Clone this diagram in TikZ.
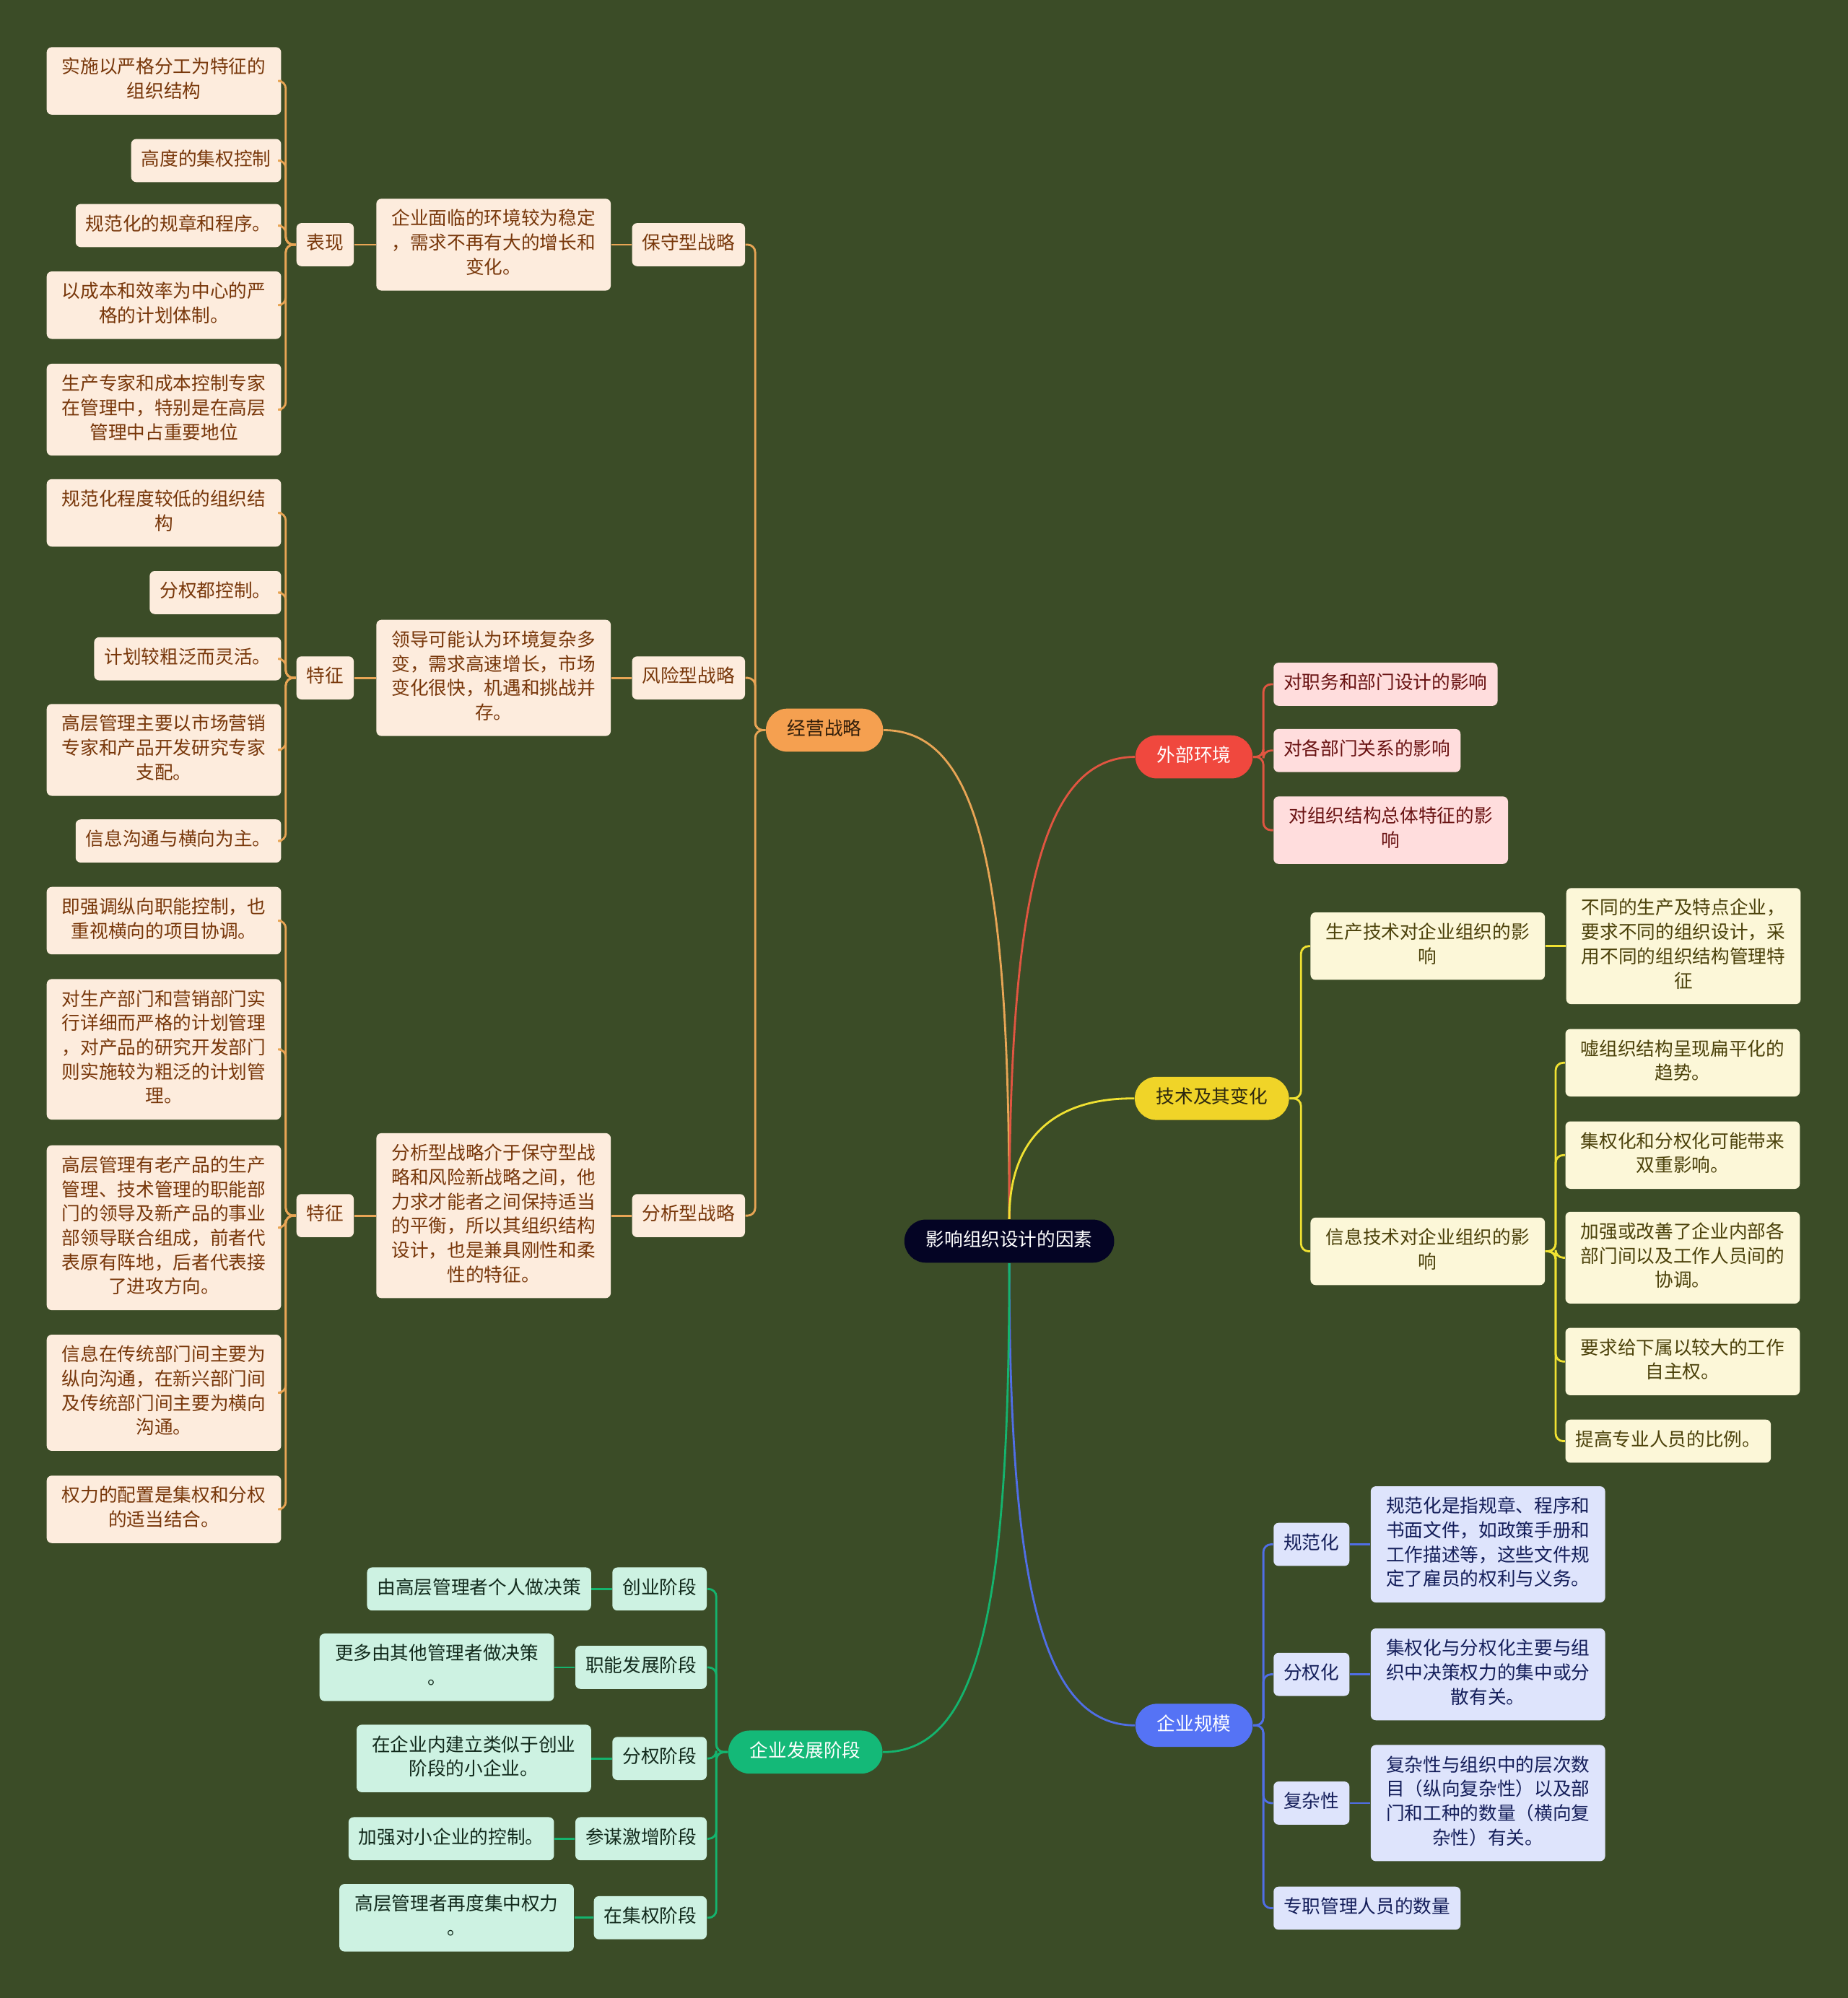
\documentclass[tikz,border=0pt]{standalone}
\usepackage{fontspec}
\setmainfont{Noto Sans CJK SC}
\usetikzlibrary{positioning}

\definecolor{bg}{RGB}{59,76,39}
\definecolor{rootfill}{RGB}{4,4,36}
\definecolor{ofill}{RGB}{245,160,80}
\definecolor{oline}{RGB}{232,165,85}
\definecolor{oleaf}{RGB}{253,236,221}
\definecolor{otext}{RGB}{120,55,10}
\definecolor{odark}{RGB}{50,30,10}
\definecolor{rfill}{RGB}{240,72,62}
\definecolor{rline}{RGB}{225,85,65}
\definecolor{rleaf}{RGB}{255,221,221}
\definecolor{rtext}{RGB}{105,18,18}
\definecolor{yfill}{RGB}{240,212,40}
\definecolor{yline}{RGB}{240,225,50}
\definecolor{yleaf}{RGB}{252,247,216}
\definecolor{ytext}{RGB}{75,65,10}
\definecolor{ydark}{RGB}{45,40,15}
\definecolor{bfill}{RGB}{85,115,245}
\definecolor{bline}{RGB}{80,110,230}
\definecolor{bleaf}{RGB}{222,228,252}
\definecolor{btext}{RGB}{20,30,90}
\definecolor{gfill}{RGB}{20,185,120}
\definecolor{gline}{RGB}{20,180,110}
\definecolor{gleaf}{RGB}{205,242,226}
\definecolor{gtext}{RGB}{18,42,28}

\tikzset{
  txt/.style={font=\fontsize{7.3pt}{9.6pt}\selectfont},
  pill/.style={txt, rounded corners=8.5pt, inner xsep=8.5pt, inner ysep=3.7pt,
    execute at begin node=\strut},
  box/.style={txt, rounded corners=2pt, inner xsep=4pt, inner ysep=3.7pt, align=center,
    execute at begin node=\strut, execute at end node=\strut},
  wide/.style={text width=84.4pt},
  obox/.style={box, fill=oleaf, text=otext},
  rbox/.style={box, fill=rleaf, text=rtext},
  ybox/.style={box, fill=yleaf, text=ytext},
  bbox/.style={box, fill=bleaf, text=btext},
  gbox/.style={box, fill=gleaf, text=gtext},
  link/.style={line width=0.8pt, rounded corners=3pt},
  up/.style={out looseness=1.7, in looseness=0.5},
}

\begin{document}
\begin{tikzpicture}[x=0.017655cm, y=-0.017655cm]
  \fill[bg] (0,0) rectangle (1450,1568);
  \useasboundingbox (0,0) rectangle (1450,1568);

  %%%%% main branches %%%%%
  \node[pill, fill=rootfill, text=white] (root) at (792,974) {影响组织设计的因素};
  \node[pill, fill=ofill, text=odark] (jy) at (647,573) {经营战略};
  \node[pill, fill=rfill, text=white] (wb) at (937,594) {外部环境};
  \node[pill, fill=yfill, text=ydark] (js) at (951,862) {技术及其变化};
  \node[pill, fill=bfill, text=white] (gm) at (937,1354) {企业规模};
  \node[pill, fill=gfill, text=white] (fz) at (632,1375) {企业发展阶段};

  \draw[link, oline] (root.north) to[out=90, in=0, up] (jy.east);
  \draw[link, rline] (root.north) to[out=90, in=180, up] (wb.west);
  \draw[link, yline] (root.north) to[out=90, in=180, up] (js.west);
  \draw[link, bline] (root.south) to[out=-90, in=180, up] (gm.west);
  \draw[link, gline] (root.south) to[out=-90, in=0, up] (fz.east);

  %%%%% 经营战略 %%%%%
  \node[obox, anchor=east] (bs) at (585,192) {保守型战略};
  \node[obox, wide, left=8pt of bs] (bsd) {企业面临的环境较为稳定\\，需求不再有大的增长和\\变化。};
  \node[obox, left=8.5pt of bsd] (bst) {表现};
  \node[obox, wide, anchor=east] (bs1) at (221,63.5) {实施以严格分工为特征的\\组织结构};
  \node[obox, anchor=east] (bs2) at (221,126) {高度的集权控制};
  \node[obox, anchor=east] (bs3) at (221,177) {规范化的规章和程序。};
  \node[obox, wide, anchor=east] (bs4) at (221,239.5) {以成本和效率为中心的严\\格的计划体制。};
  \node[obox, wide, anchor=east] (bs5) at (221,321.5) {生产专家和成本控制专家\\在管理中，特别是在高层\\管理中占重要地位};

  \node[obox, anchor=east] (fx) at (585,532) {风险型战略};
  \node[obox, wide, left=8pt of fx] (fxd) {领导可能认为环境复杂多\\变，需求高速增长，市场\\变化很快，机遇和挑战并\\存。};
  \node[obox, left=8.5pt of fxd] (fxt) {特征};
  \node[obox, wide, anchor=east] (fx1) at (221,402.5) {规范化程度较低的组织结\\构};
  \node[obox, anchor=east] (fx2) at (221,465) {分权都控制。};
  \node[obox, anchor=east] (fx3) at (221,517) {计划较粗泛而灵活。};
  \node[obox, wide, anchor=east] (fx4) at (221,588.5) {高层管理主要以市场营销\\专家和产品开发研究专家\\支配。};
  \node[obox, anchor=east] (fx5) at (221,660) {信息沟通与横向为主。};

  \node[obox, anchor=east] (fe) at (585,954) {分析型战略};
  \node[obox, wide, left=8pt of fe] (fed) {分析型战略介于保守型战\\略和风险新战略之间，他\\力求才能者之间保持适当\\的平衡，所以其组织结构\\设计，也是兼具刚性和柔\\性的特征。};
  \node[obox, left=8.5pt of fed] (fet) {特征};
  \node[obox, wide, anchor=east] (fe1) at (221,722.5) {即强调纵向职能控制，也\\重视横向的项目协调。};
  \node[obox, wide, anchor=east] (fe2) at (221,823.5) {对生产部门和营销部门实\\行详细而严格的计划管理\\，对产品的研究开发部门\\则实施较为粗泛的计划管\\理。};
  \node[obox, wide, anchor=east] (fe3) at (221,963.5) {高层管理有老产品的生产\\管理、技术管理的职能部\\门的领导及新产品的事业\\部领导联合组成，前者代\\表原有阵地，后者代表接\\了进攻方向。};
  \node[obox, wide, anchor=east] (fe4) at (221,1093) {信息在传统部门间主要为\\纵向沟通，在新兴部门间\\及传统部门间主要为横向\\沟通。};
  \node[obox, wide, anchor=east] (fe5) at (221,1184.5) {权力的配置是集权和分权\\的适当结合。};

  \draw[link, oline] (jy.west) -- ++(-8,0) |- (bs.east);
  \draw[link, oline] (jy.west) -- ++(-8,0) |- (fx.east);
  \draw[link, oline] (jy.west) -- ++(-8,0) |- (fe.east);
  \draw[link, oline] (bs.west) -- (bsd.east);
  \draw[link, oline] (bsd.west) -- (bst.east);
  \draw[link, oline] (fx.west) -- (fxd.east);
  \draw[link, oline] (fxd.west) -- (fxt.east);
  \draw[link, oline] (fe.west) -- (fed.east);
  \draw[link, oline] (fed.west) -- (fet.east);
  \draw[link, oline] (bst.west) -- ++(-8,0) |- (bs1.east);
  \draw[link, oline] (bst.west) -- ++(-8,0) |- (bs2.east);
  \draw[link, oline] (bst.west) -- ++(-8,0) |- (bs3.east);
  \draw[link, oline] (bst.west) -- ++(-8,0) |- (bs4.east);
  \draw[link, oline] (bst.west) -- ++(-8,0) |- (bs5.east);
  \draw[link, oline] (fxt.west) -- ++(-8,0) |- (fx1.east);
  \draw[link, oline] (fxt.west) -- ++(-8,0) |- (fx2.east);
  \draw[link, oline] (fxt.west) -- ++(-8,0) |- (fx3.east);
  \draw[link, oline] (fxt.west) -- ++(-8,0) |- (fx4.east);
  \draw[link, oline] (fxt.west) -- ++(-8,0) |- (fx5.east);
  \draw[link, oline] (fet.west) -- ++(-8,0) |- (fe1.east);
  \draw[link, oline] (fet.west) -- ++(-8,0) |- (fe2.east);
  \draw[link, oline] (fet.west) -- ++(-8,0) |- (fe3.east);
  \draw[link, oline] (fet.west) -- ++(-8,0) |- (fe4.east);
  \draw[link, oline] (fet.west) -- ++(-8,0) |- (fe5.east);

  %%%%% 外部环境 %%%%%
  \node[rbox, anchor=west] (wb1) at (999,537) {对职务和部门设计的影响};
  \node[rbox, anchor=west] (wb2) at (999,589) {对各部门关系的影响};
  \node[rbox, wide, anchor=west] (wb3) at (999,651.5) {对组织结构总体特征的影\\响};
  \draw[link, rline] (wb.east) -- ++(8,0) |- (wb1.west);
  \draw[link, rline] (wb.east) -- ++(8,0) |- (wb2.west);
  \draw[link, rline] (wb.east) -- ++(8,0) |- (wb3.west);

  %%%%% 技术及其变化 %%%%%
  \node[ybox, wide, anchor=west] (sc) at (1028,742.5) {生产技术对企业组织的影\\响};
  \node[ybox, wide, right=8pt of sc] (sc1) {不同的生产及特点企业，\\要求不同的组织设计，采\\用不同的组织结构管理特\\征};
  \node[ybox, wide, anchor=west] (xx) at (1028,982) {信息技术对企业组织的影\\响};
  \node[ybox, wide, anchor=west] (xx1) at (1228,834) {嘘组织结构呈现扁平化的\\趋势。};
  \node[ybox, wide, anchor=west] (xx2) at (1228,906.5) {集权化和分权化可能带来\\双重影响。};
  \node[ybox, wide, anchor=west] (xx3) at (1228,987) {加强或改善了企业内部各\\部门间以及工作人员间的\\协调。};
  \node[ybox, wide, anchor=west] (xx4) at (1228,1068.5) {要求给下属以较大的工作\\自主权。};
  \node[ybox, anchor=west] (xx5) at (1228,1131) {提高专业人员的比例。};
  \draw[link, yline] (js.east) -- ++(9,0) |- (sc.west);
  \draw[link, yline] (js.east) -- ++(9,0) |- (xx.west);
  \draw[link, yline] (sc.east) -- (sc1.west);
  \draw[link, yline] (xx.east) -- ++(8,0) |- (xx1.west);
  \draw[link, yline] (xx.east) -- ++(8,0) |- (xx2.west);
  \draw[link, yline] (xx.east) -- ++(8,0) |- (xx3.west);
  \draw[link, yline] (xx.east) -- ++(8,0) |- (xx4.west);
  \draw[link, yline] (xx.east) -- ++(8,0) |- (xx5.west);

  %%%%% 企业规模 %%%%%
  \node[bbox, anchor=west] (gf) at (999,1212) {规范化};
  \node[bbox, wide, right=8pt of gf] (gfd) {规范化是指规章、程序和\\书面文件，如政策手册和\\工作描述等，这些文件规\\定了雇员的权利与义务。};
  \node[bbox, anchor=west] (fq) at (999,1314) {分权化};
  \node[bbox, wide, right=8pt of fq] (fqd) {集权化与分权化主要与组\\织中决策权力的集中或分\\散有关。};
  \node[bbox, anchor=west] (fz3) at (999,1415) {复杂性};
  \node[bbox, wide, right=8pt of fz3] (fz3d) {复杂性与组织中的层次数\\目（纵向复杂性）以及部\\门和工种的数量（横向复\\杂性）有关。};
  \node[bbox, anchor=west] (zz) at (999,1497.5) {专职管理人员的数量};
  \draw[link, bline] (gm.east) -- ++(8,0) |- (gf.west);
  \draw[link, bline] (gm.east) -- ++(8,0) |- (fq.west);
  \draw[link, bline] (gm.east) -- ++(8,0) |- (fz3.west);
  \draw[link, bline] (gm.east) -- ++(8,0) |- (zz.west);
  \draw[link, bline] (gf.east) -- (gfd.west);
  \draw[link, bline] (fq.east) -- (fqd.west);
  \draw[link, bline] (fz3.east) -- (fz3d.west);

  %%%%% 企业发展阶段 %%%%%
  \node[gbox, anchor=east] (jd1) at (555,1247) {创业阶段};
  \node[gbox, left=8pt of jd1] (jd1d) {由高层管理者个人做决策};
  \node[gbox, anchor=east] (jd2) at (555,1308.5) {职能发展阶段};
  \node[gbox, wide, left=8pt of jd2] (jd2d) {更多由其他管理者做决策\\。};
  \node[gbox, anchor=east] (jd3) at (555,1380) {分权阶段};
  \node[gbox, wide, left=8pt of jd3] (jd3d) {在企业内建立类似于创业\\阶段的小企业。};
  \node[gbox, anchor=east] (jd4) at (555,1443) {参谋激增阶段};
  \node[gbox, left=8pt of jd4] (jd4d) {加强对小企业的控制。};
  \node[gbox, anchor=east] (jd5) at (555,1505) {在集权阶段};
  \node[gbox, wide, left=7.5pt of jd5] (jd5d) {高层管理者再度集中权力\\。};
  \draw[link, gline] (fz.west) -- ++(-9,0) |- (jd1.east);
  \draw[link, gline] (fz.west) -- ++(-9,0) |- (jd2.east);
  \draw[link, gline] (fz.west) -- ++(-9,0) |- (jd3.east);
  \draw[link, gline] (fz.west) -- ++(-9,0) |- (jd4.east);
  \draw[link, gline] (fz.west) -- ++(-9,0) |- (jd5.east);
  \draw[link, gline] (jd1.west) -- (jd1d.east);
  \draw[link, gline] (jd2.west) -- (jd2d.east);
  \draw[link, gline] (jd3.west) -- (jd3d.east);
  \draw[link, gline] (jd4.west) -- (jd4d.east);
  \draw[link, gline] (jd5.west) -- (jd5d.east);
\end{tikzpicture}
\end{document}
